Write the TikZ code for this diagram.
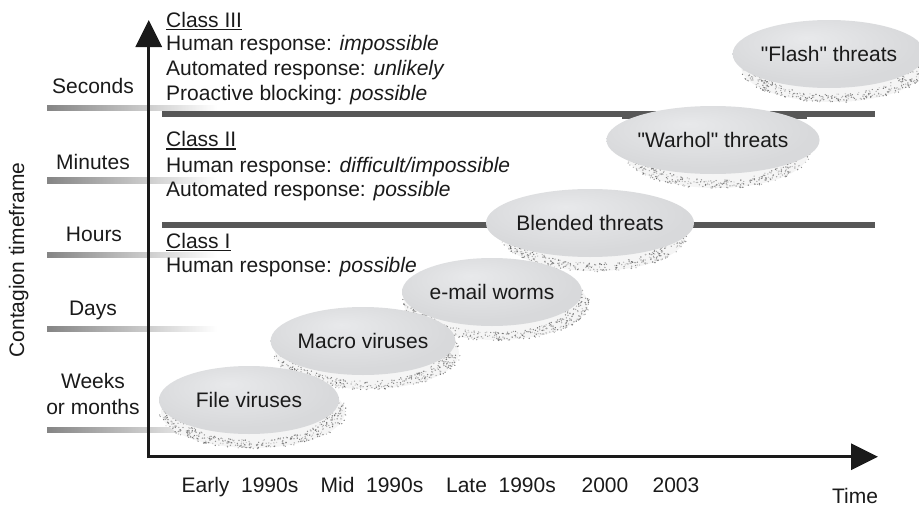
\documentclass[tikz,border=0pt]{standalone}
\usepackage{fontspec}
\setmainfont{Liberation Sans}[Ligatures=TeXOff]
\usetikzlibrary{arrows.meta,shapes.geometric}

\definecolor{ink}{HTML}{1A1A1A}
\definecolor{band}{HTML}{575757}
\definecolor{blobhi}{HTML}{E8E9EB}
\definecolor{blobmid}{HTML}{D8D9DB}
\definecolor{blobrim}{HTML}{A2A4A6}

% soft grey disc, lighter towards the upper left, darker rim at the bottom
\pgfdeclareradialshading{blobshade}{\pgfpoint{-6bp}{12bp}}{%
  color(0bp)=(blobhi); color(26bp)=(blobmid); color(43bp)=(blobmid); color(50bp)=(blobrim)}

\tikzset{
  lbl/.style={font=\fontsize{21}{25}\selectfont, text=ink, inner sep=0pt},
  blob/.style={lbl, shape=ellipse, minimum width=180pt, minimum height=68pt,
    shade, shading=blobshade},
  axis/.style={ink, line width=3.2pt, -{Triangle[length=27pt,width=26pt]}},
  classline/.style={band, line width=5.5pt},
  tickbar/.style={left color=black!48, right color=white},
  uline/.style={ink, line width=1.5pt},
}

% threat ellipse with its speckled drop shadow: name, x, y, text
\newcommand\threatblob[4]{%
  \fill[gray!8] (#2+4,#3+12) ellipse [x radius=92, y radius=36];
  \foreach \k in {1,...,460}{%
    \pgfmathsetmacro\aa{-25+230*rnd}%
    \pgfmathsetmacro\rr{0.78+0.24*rnd}%
    \pgfmathsetmacro\gg{18+42*rnd}%
    \pgfmathsetmacro\px{#2+4+92*\rr*cos(\aa)}%
    \pgfmathsetmacro\py{#3+12+36*\rr*sin(\aa)}%
    \fill[black!\gg] (\px,\py) circle[radius=0.7pt];
  }
  \node[blob] (#1) at (#2,#3) {#4};
}

\begin{document}
\begin{tikzpicture}[x=1pt,y=-1pt]
\pgfmathsetseed{4711}
\useasboundingbox (0,0) rectangle (919,506);

% timeframe bars on the left
\foreach \yy in {108,180.5,255,329,429.7}
  \shade[tickbar] (47,\yy-2.7) rectangle (217,\yy+2.7);

% boundaries between the classes
\draw[classline] (162,114) -- (875,114);
\draw[band, line width=7pt] (622,115) -- (807,115);
\draw[classline] (162,225) -- (875,225);

% threats, latest first so earlier ones lie on top
\threatblob{flash}{829}{54}{"Flash" threats}
\threatblob{warhol}{713}{140}{"Warhol" threats}
\threatblob{blended}{590}{223}{Blended threats}
\threatblob{email}{492}{292}{e-mail worms}
\threatblob{macro}{363}{341}{Macro viruses}
\threatblob{filev}{249}{400}{File viruses}

% axes
\coordinate (origin) at (148.7,456.7);
\coordinate (ytop) at (148.7,20);
\coordinate (xend) at (878,456.7);
\draw[axis] ([yshift=-1.6pt]origin) -- (ytop);
\draw[axis] ([xshift=-1.6pt]origin) -- (xend);

% timeframe labels
\node[lbl, anchor=base] (sec) at (93,93.3) {Seconds};
\node[lbl, anchor=base] (min) at (93,169.3) {Minutes};
\node[lbl, anchor=base] (hrs) at (94,241.7) {Hours};
\node[lbl, anchor=base] (days) at (93,315) {Days};
\node[lbl, anchor=base] (weeks) at (93,388.3) {Weeks};
\node[lbl, anchor=base] (months) at (93,414) {or months};
\node[lbl, anchor=base, rotate=90] (ylab) at (24,260) {Contagion timeframe};

% class descriptions
\node[lbl, anchor=base west] (c3) at (166,27.3) {Class III};
\node[lbl, anchor=base west] (c3h) at (166,50) {Human response: \textit{impossible}};
\node[lbl, anchor=base west] (c3a) at (166,75.5) {Automated response: \textit{unlikely}};
\node[lbl, anchor=base west] (c3p) at (166,100.5) {Proactive blocking: \textit{possible}};
\node[lbl, anchor=base west] (c2) at (166,146.7) {Class II};
\node[lbl, anchor=base west] (c2h) at (166,172) {Human response: \textit{difficult/impossible}};
\node[lbl, anchor=base west] (c2a) at (166,196.7) {Automated response: \textit{possible}};
\node[lbl, anchor=base west] (c1) at (166,248.3) {Class I};
\node[lbl, anchor=base west] (c1h) at (166,272) {Human response: \textit{possible}};
\foreach \c in {c3,c2,c1}
  \draw[uline] ([yshift=-2.2pt]\c.base west) -- ([yshift=-2.2pt]\c.base east);

% time labels
\node[lbl, anchor=base] (early) at (240,492.5) {Early\ \ 1990s};
\node[lbl, anchor=base] (mid) at (372,492.5) {Mid\ \ 1990s};
\node[lbl, anchor=base] (late) at (501,492.5) {Late\ \ 1990s};
\node[lbl, anchor=base] (y2000) at (605,492.5) {2000};
\node[lbl, anchor=base] (y2003) at (676,492.5) {2003};
\node[lbl, anchor=base] (time) at (855,503) {Time};
\end{tikzpicture}
\end{document}
